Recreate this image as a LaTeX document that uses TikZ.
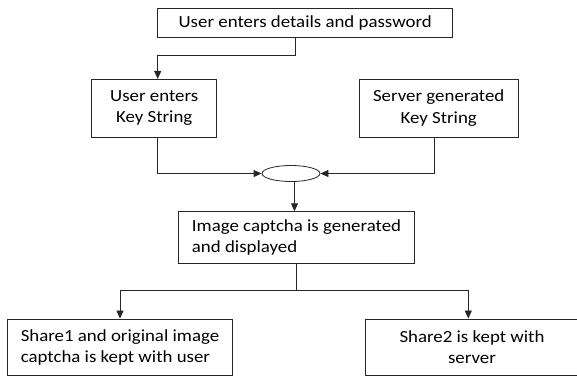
\documentclass[tikz,border=0pt]{standalone}
\usepackage{fontspec}
\setmainfont{Carlito}[FakeStretch=1.11]
\usepackage{tikz}
\usetikzlibrary{positioning}
\usetikzlibrary{arrows.meta}
\usetikzlibrary{shapes.geometric}
\tikzset{
    flow line/.style = {draw=black!85, line width=0.8pt},
    arrow line/.style = {flow line, -{Triangle[length=8pt,width=7pt]}},
    box/.style = {shape=rectangle, flow line, inner sep=2pt, align=center, font=\fontsize{17}{21.5}\selectfont},
    join node/.style = {shape=ellipse, flow line, minimum width=58pt, minimum height=16pt, inner sep=0pt}
}
\begin{document}
\begin{tikzpicture}[x=1pt, y=-1pt]
    \useasboundingbox (0,0) rectangle (577,378);
    \node(details)[box, minimum width=295pt, minimum height=29.4pt] at (305.2,23) {User enters details and password};
    \node(userkey)[box, minimum width=125pt, minimum height=57.7pt] at (154.2,108.2) {User enters\\Key String};
    \node(serverkey)[box, minimum width=158.7pt, minimum height=57.7pt] at (438.7,108.2) {Server generated\\Key String};
    \node(join)[join node] at (291,173.5) {};
    \node(captcha)[box, align=left, minimum width=236.4pt, minimum height=51.3pt] at (296.5,237.3) {Image captcha is generated\\and displayed};
    \node(share1)[box, align=left, minimum width=224.6pt, minimum height=56.7pt] at (120,347.3) {Share1 and original image\\captcha is kept with user};
    \node(share2)[box, minimum width=214pt, minimum height=56.7pt] at (472,347.3) {Share2 is kept with\\server};
    \coordinate(fork) at (296.5,290.7);
    \draw[arrow line] ([xshift=-10.2pt]details.south) -- ++(0,17.3) -| ([xshift=3.5pt]userkey.north);
    \draw[arrow line] ([xshift=3.5pt]userkey.south) |- (join.west);
    \draw[arrow line] ([xshift=-4.7pt]serverkey.south) |- (join.east);
    \draw[arrow line] ([xshift=3.5pt]join.south) -- ([xshift=-2pt]captcha.north);
    \draw[flow line] (captcha.south) -- (fork);
    \draw[arrow line] (fork) -| (share1.north);
    \draw[arrow line] (fork) -| ([xshift=-3.7pt]share2.north);
\end{tikzpicture}
\end{document}
